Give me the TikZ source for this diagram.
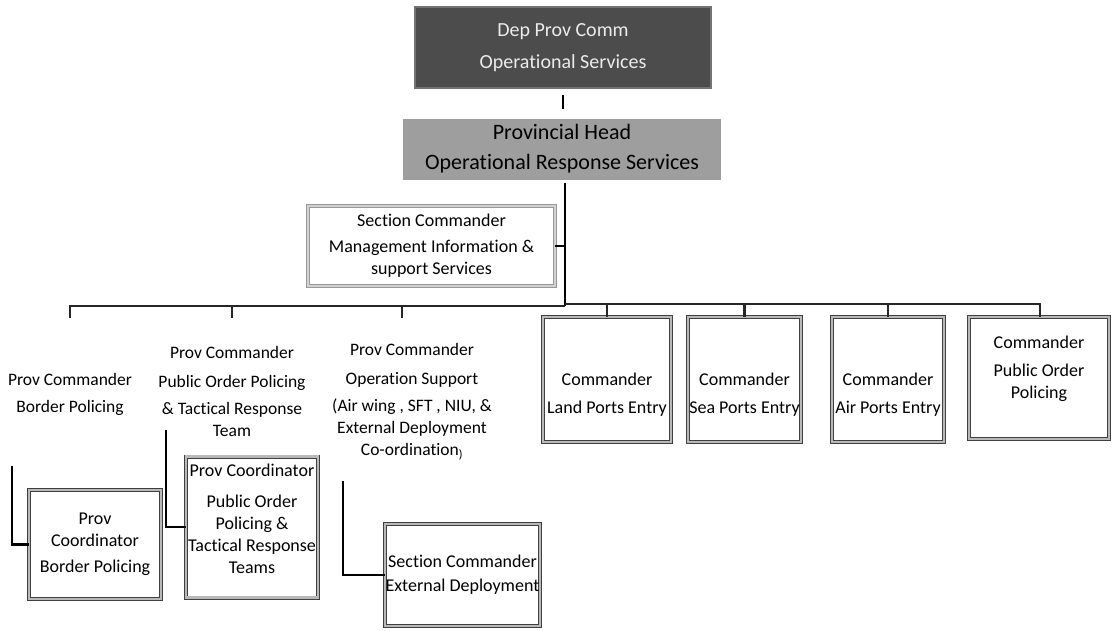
\documentclass[tikz,border=0pt]{standalone}
\usepackage{fontspec}
\setmainfont{Carlito}[Ligatures=NoCommon]
\begin{document}
\begin{tikzpicture}[x=1pt,y=-1pt,
  box/.style={draw=black!75,double=gray!55,double distance=2.8pt,line width=0.6pt,fill=white,
    align=center,inner sep=0pt,font=\fontsize{18}{22}\selectfont},
  lbox/.style={box,draw=gray!80,double=gray!35},
  plain/.style={align=center,inner sep=0pt,font=\fontsize{17.5}{22}\selectfont},
  conn/.style={line width=2.6pt,black},
  bus/.style={line width=2.6pt,black!85}]
\useasboundingbox (0,0) rectangle (1113,630);
% top boxes
\node[fill=black!70,draw=black!55,line width=1.5pt,minimum width=296pt,minimum height=81pt,
  align=center,text=white!92!black,font=\fontsize{20}{32}\selectfont] (top) at (563,47.5)
  {Dep Prov Comm\\Operational Services};
\node[fill=black!38,minimum width=318pt,minimum height=61pt,
  align=center,font=\fontsize{22}{30}\selectfont] (ph) at (562,149)
  {Provincial Head\\Operational Response Services};
\node[lbox,minimum width=247pt,minimum height=80pt] (mis) at (431.5,246)
  {Section Commander\\[4pt]Management Information \&\\support Services};
% right row boxes
\node[box,minimum width=128pt,minimum height=125pt] (land) at (607,379.5)
  {\rule{0pt}{42pt}Commander\\[6pt]Land Ports Entry};
\node[box,minimum width=113pt,minimum height=125pt] (sea) at (744.5,379.5)
  {\rule{0pt}{42pt}Commander\\[6pt]Sea Ports Entry};
\node[box,minimum width=112pt,minimum height=125pt] (air) at (888,379.5)
  {\rule{0pt}{42pt}Commander\\[6pt]Air Ports Entry};
\node[box,minimum width=140pt,minimum height=122pt] (pop) at (1039,378)
  {Commander\\[6pt]Public Order\\Policing\rule[-22pt]{0pt}{1pt}};
% left plain text
\node[plain] (pcbp) at (70,394.5) {Prov Commander\\[5pt]Border Policing};
\node[plain] (pcpo) at (232,391) {Prov Commander\\[7pt]Public Order Policing\\[5pt]\& Tactical Response\\Team};
\node[plain] (pcos) at (412,402) {Prov Commander\\[7pt]Operation Support\\[5pt](Air wing , SFT , NIU, \&\\External Deployment\\Co-ordination\textsubscript{)}};
% bottom boxes
\node[box,minimum width=132pt,minimum height=109pt] (b1) at (95,544.5)
  {Prov\\Coordinator\\[4pt]Border Policing};
\node[box,minimum width=132pt,minimum height=141pt] (b2) at (252,527)
  {Prov Coordinator\\[9pt]Public Order\\Policing \&\\Tactical Response\\Teams\rule[-16pt]{0pt}{1pt}};
\node[box,minimum width=155pt,minimum height=102pt] (b3) at (462.5,575)
  {Section Commander\\[2pt]External Deployment};
% connectors
\draw[conn] (top.south) ++(0,6) coordinate (t1) -- ++(0,14) coordinate (t2);
\coordinate (busL) at (70,306);
\coordinate (busR) at (1040,304);
\coordinate (jn) at (565,306);
\draw[conn] (ph.south -| jn) ++(0,3) -- (jn);
\draw[conn,line width=2pt] (mis.east) -- (mis.east -| jn);
\draw[bus] (jn) -- (busL) -- ++(0,12) coordinate (sL1);
\draw[bus] (232,306) -- (232,318) coordinate (sL2);
\draw[bus] (402,306) -- (402,318) coordinate (sL3);
\draw[bus] (jn) ++(0,-2) -- (busR) -- (pop.north -| busR);
\draw[bus] (land.north) -- (land.north |- busR);
\draw[bus] (sea.north) -- (sea.north |- busR);
\draw[bus] (air.north) -- (air.north |- busR);
% sub connectors
\coordinate (c1) at (12,466);
\coordinate (c2) at (166,430);
\coordinate (c3) at (343,481);
\draw[conn] (c1) |- (b1.west);
\draw[conn] (c2) |- (b2.west);
\draw[conn] (c3) |- (b3.west);
\end{tikzpicture}
\end{document}
